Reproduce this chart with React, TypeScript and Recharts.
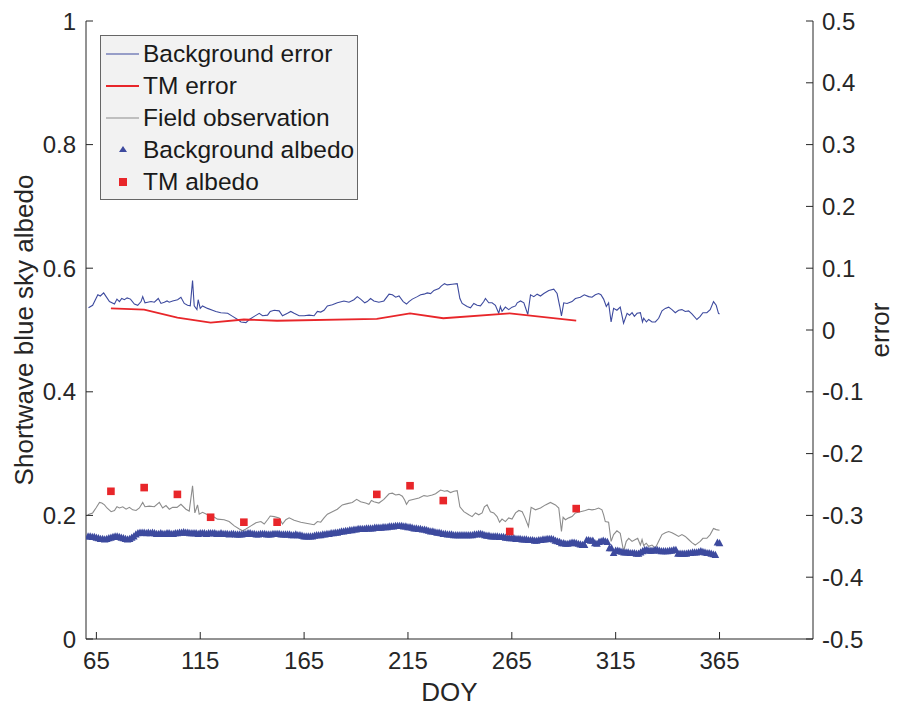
import { ComposedChart, Line, Scatter, XAxis, YAxis, Legend } from 'recharts'

const FONT = '"Liberation Sans", Arial, sans-serif'
const INK = '#262626'
const BLUE = '#3d4a9e'
const RED = '#e8262a'
const GRAY = '#8c8c8c'

const doyTicks = [65, 115, 165, 215, 265, 315, 365]
const albedoTicks = [0, 0.2, 0.4, 0.6, 0.8, 1]
const errorTicks = [-0.5, -0.4, -0.3, -0.2, -0.1, 0, 0.1, 0.2, 0.3, 0.4, 0.5]

// [DOY, error]
const backgroundError: [number, number][] = [
  [61.2, 0.036], [63.2, 0.040], [65.7, 0.057], [66.9, 0.055], [68.5, 0.060], [69.7, 0.054],
  [71.3, 0.046], [73.7, 0.042], [74.9, 0.050], [76.1, 0.046], [77.2, 0.051], [78.5, 0.049],
  [79.8, 0.052], [81.4, 0.050], [83.3, 0.042], [84.9, 0.040], [86.5, 0.046], [87.3, 0.054],
  [88.4, 0.044], [89.7, 0.045], [91.3, 0.046], [92.9, 0.045], [94.8, 0.051], [96.1, 0.043],
  [97.7, 0.045], [99.0, 0.047], [100.1, 0.045], [101.7, 0.047], [104.1, 0.049], [105.7, 0.053],
  [107.3, 0.043], [108.9, 0.040], [110.2, 0.039], [111.3, 0.080], [112.1, 0.039], [113.4, 0.033],
  [114.0, 0.049], [115.0, 0.035], [116.1, 0.039], [118.5, 0.035], [120.9, 0.032], [122.5, 0.030],
  [124.9, 0.028], [128.2, 0.027], [130.6, 0.022], [133.0, 0.017], [134.6, 0.013], [137.0, 0.012],
  [138.6, 0.017], [141.0, 0.022], [143.4, 0.027], [145.0, 0.023], [147.4, 0.024], [148.7, 0.030],
  [150.6, 0.032], [153.0, 0.031], [154.6, 0.023], [157.0, 0.027], [158.6, 0.030], [160.2, 0.027],
  [162.6, 0.023], [165.0, 0.023], [167.4, 0.024], [169.8, 0.023], [171.4, 0.030], [173.0, 0.029],
  [174.6, 0.032], [176.2, 0.039], [178.6, 0.041], [181.0, 0.044], [184.2, 0.047], [186.6, 0.045],
  [189.0, 0.049], [190.6, 0.054], [192.2, 0.050], [194.2, 0.044], [195.4, 0.046], [197.0, 0.051],
  [198.6, 0.047], [201.0, 0.045], [203.4, 0.047], [205.9, 0.058], [207.5, 0.057], [209.1, 0.053],
  [210.7, 0.055], [212.7, 0.046], [214.3, 0.042], [215.5, 0.046], [217.1, 0.050], [219.5, 0.054],
  [221.1, 0.057], [222.7, 0.058], [224.3, 0.060], [225.9, 0.059], [227.5, 0.064], [229.9, 0.067],
  [231.0, 0.071], [232.6, 0.075], [233.9, 0.073], [236.3, 0.074], [238.7, 0.075], [240.0, 0.051],
  [241.1, 0.043], [243.5, 0.038], [245.1, 0.036], [246.7, 0.043], [248.3, 0.040], [249.9, 0.039],
  [251.5, 0.046], [252.3, 0.051], [253.9, 0.044], [255.5, 0.044], [257.1, 0.040], [258.7, 0.027],
  [259.5, 0.038], [260.3, 0.030], [261.9, 0.037], [263.5, 0.033], [265.1, 0.037], [266.8, 0.039],
  [267.6, 0.044], [269.2, 0.047], [270.8, 0.044], [272.7, 0.025], [274.0, 0.057], [275.6, 0.054],
  [277.2, 0.058], [278.8, 0.055], [280.4, 0.059], [282.8, 0.064], [285.2, 0.066], [286.8, 0.059],
  [288.1, 0.038], [288.9, 0.023], [290.0, 0.044], [291.6, 0.043], [294.0, 0.046], [295.6, 0.051],
  [298.0, 0.053], [299.9, 0.057], [302.0, 0.054], [303.6, 0.053], [305.2, 0.057], [306.8, 0.059],
  [307.9, 0.057], [309.2, 0.050], [310.5, 0.038], [311.6, 0.044], [312.8, 0.013], [314.0, 0.035],
  [315.6, 0.032], [317.2, 0.037], [318.8, 0.011], [320.5, 0.027], [321.7, 0.024], [322.9, 0.028],
  [324.0, 0.022], [325.3, 0.027], [326.9, 0.028], [327.9, 0.013], [328.5, 0.019], [329.8, 0.013],
  [330.9, 0.017], [332.5, 0.013], [334.1, 0.013], [335.7, 0.019], [337.3, 0.031], [338.9, 0.035],
  [340.5, 0.037], [342.1, 0.033], [343.7, 0.028], [345.3, 0.032], [346.9, 0.033], [348.5, 0.030],
  [350.1, 0.031], [351.7, 0.026], [354.1, 0.017], [355.7, 0.022], [357.0, 0.028], [358.9, 0.028],
  [360.5, 0.033], [362.1, 0.046], [363.4, 0.040], [364.5, 0.027], [365.0, 0.026],
]

// [DOY, albedo]
const fieldObservation: [number, number][] = [
  [60.8, 0.201], [63.2, 0.204], [64.8, 0.212], [66.5, 0.221], [67.6, 0.220], [68.9, 0.217],
  [70.1, 0.212], [72.1, 0.206], [73.7, 0.208], [74.9, 0.214], [76.1, 0.212], [77.7, 0.214],
  [79.3, 0.210], [80.9, 0.213], [82.5, 0.209], [84.1, 0.208], [85.7, 0.212], [87.3, 0.221],
  [88.4, 0.214], [90.5, 0.215], [92.9, 0.214], [95.3, 0.221], [96.9, 0.212], [98.5, 0.216],
  [100.1, 0.210], [101.7, 0.213], [103.8, 0.213], [105.7, 0.218], [108.1, 0.210], [109.7, 0.207],
  [111.3, 0.248], [112.4, 0.204], [113.7, 0.217], [114.5, 0.202], [116.1, 0.205], [118.5, 0.201],
  [120.9, 0.199], [123.3, 0.194], [126.5, 0.193], [128.9, 0.190], [131.4, 0.183], [133.8, 0.178],
  [135.4, 0.175], [137.0, 0.178], [139.4, 0.183], [141.8, 0.188], [144.2, 0.190], [145.8, 0.186],
  [147.4, 0.193], [148.7, 0.199], [150.6, 0.198], [153.0, 0.196], [154.6, 0.186], [156.2, 0.193],
  [157.8, 0.196], [160.2, 0.192], [163.4, 0.189], [166.6, 0.187], [169.8, 0.185], [171.4, 0.190],
  [173.0, 0.189], [174.6, 0.196], [176.2, 0.202], [178.6, 0.206], [181.0, 0.210], [183.4, 0.217],
  [185.8, 0.219], [188.2, 0.221], [190.3, 0.226], [192.2, 0.222], [194.6, 0.220], [196.2, 0.218],
  [197.4, 0.224], [198.6, 0.222], [201.0, 0.220], [203.4, 0.226], [205.9, 0.235], [207.5, 0.236],
  [209.1, 0.233], [210.7, 0.234], [212.3, 0.231], [213.4, 0.225], [214.3, 0.218], [215.5, 0.224],
  [217.9, 0.226], [220.3, 0.228], [222.7, 0.232], [224.3, 0.231], [226.7, 0.233], [228.3, 0.235],
  [230.7, 0.241], [232.6, 0.239], [233.9, 0.240], [235.5, 0.237], [237.1, 0.239], [238.7, 0.240],
  [240.0, 0.214], [241.9, 0.206], [244.3, 0.201], [245.9, 0.198], [247.5, 0.204], [249.1, 0.201],
  [250.7, 0.204], [251.8, 0.214], [253.1, 0.217], [254.7, 0.206], [256.3, 0.204], [257.9, 0.198],
  [259.1, 0.189], [260.3, 0.194], [261.9, 0.190], [263.5, 0.196], [265.1, 0.194], [266.8, 0.204],
  [268.4, 0.208], [270.0, 0.206], [271.1, 0.198], [273.0, 0.182], [274.3, 0.213], [276.4, 0.209],
  [278.8, 0.212], [281.2, 0.217], [283.6, 0.221], [286.0, 0.217], [287.6, 0.212], [288.9, 0.174],
  [289.7, 0.197], [290.8, 0.193], [292.4, 0.196], [294.0, 0.198], [295.6, 0.204], [298.0, 0.206],
  [300.4, 0.208], [302.0, 0.210], [303.6, 0.209], [305.2, 0.210], [306.8, 0.212], [308.4, 0.209],
  [309.2, 0.201], [310.0, 0.190], [311.6, 0.189], [312.8, 0.158], [314.0, 0.169], [315.6, 0.175],
  [317.2, 0.171], [318.8, 0.142], [320.1, 0.158], [321.3, 0.163], [322.9, 0.158], [324.5, 0.161],
  [325.6, 0.163], [326.9, 0.152], [327.7, 0.161], [328.5, 0.151], [329.7, 0.155], [330.9, 0.150],
  [332.5, 0.152], [334.1, 0.147], [335.7, 0.158], [337.3, 0.169], [338.9, 0.172], [340.5, 0.174],
  [342.1, 0.172], [343.7, 0.169], [345.3, 0.166], [346.9, 0.169], [348.5, 0.166], [350.1, 0.161],
  [351.7, 0.156], [353.3, 0.152], [354.1, 0.154], [355.7, 0.158], [357.0, 0.163], [358.9, 0.163],
  [360.5, 0.169], [362.1, 0.179], [363.4, 0.177], [365.0, 0.176],
]

// daily background albedo, DOY 61..365
const bgAlbedoFirstDay = 61
const backgroundAlbedo = [
  0.166, 0.166, 0.165, 0.165,
  0.164, 0.163, 0.162, 0.162, 0.161, 0.162, 0.163, 0.164,
  0.165, 0.166, 0.166, 0.165, 0.164, 0.163,
  0.162, 0.161, 0.162, 0.164, 0.166,
  0.169, 0.171, 0.172, 0.172, 0.172,
  0.171, 0.172, 0.171, 0.172, 0.171, 0.170, 0.170, 0.171, 0.170, 0.170, 0.171,
  0.171, 0.170, 0.170, 0.171, 0.171, 0.172, 0.172, 0.173, 0.172, 0.172, 0.171,
  0.171, 0.171, 0.171, 0.170, 0.171, 0.171, 0.171, 0.170, 0.171, 0.171,
  0.171, 0.171, 0.170, 0.170, 0.171, 0.170, 0.170, 0.170, 0.169, 0.170,
  0.170, 0.169, 0.169, 0.169, 0.169, 0.170, 0.170, 0.171, 0.171, 0.170,
  0.170, 0.169, 0.169, 0.170, 0.170, 0.170, 0.169, 0.169, 0.169, 0.170,
  0.170, 0.170, 0.170, 0.169, 0.169, 0.169, 0.169, 0.169, 0.168, 0.168, 0.169,
  0.168, 0.168, 0.167, 0.166, 0.166, 0.166, 0.166, 0.166, 0.167, 0.168, 0.168,
  0.168, 0.169, 0.169, 0.170, 0.170, 0.171, 0.171, 0.172, 0.172, 0.173,
  0.174, 0.174, 0.175, 0.175, 0.176, 0.176, 0.177, 0.177, 0.178, 0.178,
  0.178, 0.178, 0.179, 0.179, 0.179, 0.179, 0.180, 0.180, 0.180, 0.180,
  0.181, 0.181, 0.181, 0.182, 0.182, 0.182, 0.183, 0.183, 0.183, 0.183,
  0.182, 0.182, 0.181, 0.181, 0.180, 0.179, 0.179, 0.178, 0.178, 0.177,
  0.177, 0.176, 0.175, 0.174, 0.174, 0.173, 0.172, 0.172, 0.171, 0.170,
  0.170, 0.169, 0.169, 0.169, 0.168, 0.168, 0.168, 0.168, 0.168, 0.168,
  0.168, 0.168, 0.168, 0.168, 0.169, 0.169, 0.170, 0.170, 0.169, 0.168,
  0.167, 0.167, 0.166, 0.166, 0.166, 0.166, 0.165, 0.165, 0.165, 0.164,
  0.164, 0.163, 0.163, 0.163, 0.162, 0.162, 0.162, 0.161, 0.161, 0.161,
  0.160, 0.160, 0.160, 0.159, 0.159, 0.160, 0.160, 0.161, 0.161, 0.162,
  0.162, 0.162, 0.161, 0.159, 0.158, 0.157,
  0.155, 0.155, 0.154, 0.154, 0.155, 0.156, 0.156, 0.155, 0.154, 0.153, 0.152,
  0.152, 0.160, 0.160, 0.159, 0.159, 0.155, 0.154, 0.157, 0.158, 0.159, 0.158,
  0.157, 0.147, 0.147, 0.139, 0.143, 0.143, 0.142, 0.141, 0.140, 0.140,
  0.140, 0.139, 0.139, 0.139, 0.138, 0.138, 0.140, 0.142, 0.144, 0.144,
  0.143, 0.143, 0.143, 0.144, 0.144, 0.143, 0.142, 0.142, 0.142, 0.142,
  0.143, 0.143, 0.144, 0.144, 0.138, 0.138, 0.138, 0.138, 0.138, 0.139,
  0.139, 0.140, 0.140, 0.140, 0.141, 0.142, 0.141, 0.140, 0.139, 0.139,
  0.138, 0.137, 0.136, 0.156, 0.155,
]

// Landsat TM acquisitions
const tmDays = [72, 88, 104, 120, 136, 152, 200, 216, 232, 264, 296]
const tmAlbedo = [0.239, 0.245, 0.234, 0.197, 0.189, 0.189, 0.234, 0.248, 0.224, 0.174, 0.211]
const tmErrorValues = [0.035, 0.033, 0.020, 0.012, 0.017, 0.015, 0.018, 0.027, 0.019, 0.027, 0.015]

const bgErrorRows = backgroundError.map(([doy, v]) => ({ doy, v }))
const fieldRows = fieldObservation.map(([doy, v]) => ({ doy, v }))
const bgAlbedoRows = backgroundAlbedo.map((v, i) => ({ doy: bgAlbedoFirstDay + i, v }))
const tmAlbedoRows = tmDays.map((doy, i) => ({ doy, v: tmAlbedo[i] }))
const tmErrorRows = tmDays.map((doy, i) => ({ doy, v: tmErrorValues[i] }))

const tickStyle = { fontSize: 24, fill: INK, fontFamily: FONT }
const labelStyle = { fontSize: 26, fill: INK, fontFamily: FONT }

function Triangle(props: any) {
  const { cx, cy } = props
  if (cx == null || cy == null) return null
  return <polygon points={`${cx},${cy - 4.2} ${cx - 3.8},${cy + 3} ${cx + 3.8},${cy + 3}`} fill={BLUE} />
}

function Square(props: any) {
  const { cx, cy } = props
  if (cx == null || cy == null) return null
  return <rect x={cx - 3.8} y={cy - 3.8} width={7.6} height={7.6} fill={RED} />
}

const legendItems = [
  { name: 'Background error', kind: 'line', color: BLUE },
  { name: 'TM error', kind: 'line', color: RED },
  { name: 'Field observation', kind: 'line', color: GRAY },
  { name: 'Background albedo', kind: 'triangle', color: BLUE },
  { name: 'TM albedo', kind: 'square', color: RED },
]

function LegendBox() {
  return (
    <div
      style={{
        width: 256,
        height: 161,
        background: '#f2f2f2',
        border: '1px solid #666',
        fontFamily: FONT,
        fontSize: 24.5,
        color: '#1a1a1a',
        paddingTop: 2,
        boxSizing: 'content-box',
      }}
    >
      {legendItems.map((it) => (
        <div key={it.name} style={{ display: 'flex', alignItems: 'center', height: 32, lineHeight: '32px' }}>
          <svg width={42} height={32} style={{ flex: 'none' }}>
            {it.kind === 'line' && <line x1={5} x2={38} y1={16} y2={16} stroke={it.color} strokeWidth={it.color === RED ? 1.8 : 1.1} />}
            {it.kind === 'triangle' && <polygon points="22,12 18,18 26,18" fill={it.color} />}
            {it.kind === 'square' && <rect x={18} y={12} width={8} height={8} fill={it.color} />}
          </svg>
          <span style={{ whiteSpace: 'nowrap' }}>{it.name}</span>
        </div>
      ))}
    </div>
  )
}

export default function App() {
  return (
    <div style={{ position: 'absolute', left: 0, top: 0, background: '#fff' }}>
      <ComposedChart width={898} height={707} margin={{ top: 21, right: 0, bottom: 0, left: 0 }}>
        <XAxis
          xAxisId="bottom"
          dataKey="doy"
          type="number"
          domain={[60, 410]}
          ticks={doyTicks}
          allowDataOverflow
          height={68}
          stroke={INK}
          tickSize={-7}
          tickMargin={20}
          tick={tickStyle}
          label={{ value: 'DOY', position: 'insideBottom', offset: 6, style: labelStyle }}
        />
        <XAxis
          xAxisId="top"
          orientation="top"
          dataKey="doy"
          type="number"
          domain={[60, 410]}
          ticks={doyTicks}
          allowDataOverflow
          height={0}
          stroke={INK}
          tickSize={-7}
          tick={false}
        />
        <YAxis
          yAxisId="left"
          type="number"
          domain={[0, 1]}
          ticks={albedoTicks}
          width={86}
          stroke={INK}
          tickSize={-7}
          tickMargin={17}
          tick={tickStyle}
          label={{ value: 'Shortwave blue sky albedo', angle: -90, position: 'insideLeft', offset: 24, textAnchor: 'middle', style: labelStyle }}
        />
        <YAxis
          yAxisId="right"
          orientation="right"
          type="number"
          domain={[-0.5, 0.5]}
          ticks={errorTicks}
          width={85}
          stroke={INK}
          tickSize={-7}
          tickMargin={16}
          tick={tickStyle}
          label={{ value: 'error', angle: -90, position: 'insideRight', offset: 18, textAnchor: 'middle', style: labelStyle }}
        />
        <Line
          data={bgErrorRows}
          xAxisId="bottom"
          yAxisId="right"
          dataKey="v"
          stroke={BLUE}
          strokeWidth={1.1}
          dot={false}
          isAnimationActive={false}
        />
        <Line
          data={tmErrorRows}
          xAxisId="bottom"
          yAxisId="right"
          dataKey="v"
          stroke={RED}
          strokeWidth={1.8}
          dot={false}
          isAnimationActive={false}
        />
        <Line
          data={fieldRows}
          xAxisId="bottom"
          yAxisId="left"
          dataKey="v"
          stroke={GRAY}
          strokeWidth={1.1}
          dot={false}
          isAnimationActive={false}
        />
        <Scatter
          data={bgAlbedoRows}
          xAxisId="bottom"
          yAxisId="left"
          dataKey="v"
          shape={Triangle}
          isAnimationActive={false}
        />
        <Scatter
          data={tmAlbedoRows}
          xAxisId="bottom"
          yAxisId="left"
          dataKey="v"
          shape={Square}
          isAnimationActive={false}
        />
        <Legend
          layout="vertical"
          align="center"
          verticalAlign="middle"
          content={() => <LegendBox />}
          wrapperStyle={{ position: 'absolute', left: 100, top: 35, width: 258, height: 164 }}
        />
      </ComposedChart>
    </div>
  )
}
